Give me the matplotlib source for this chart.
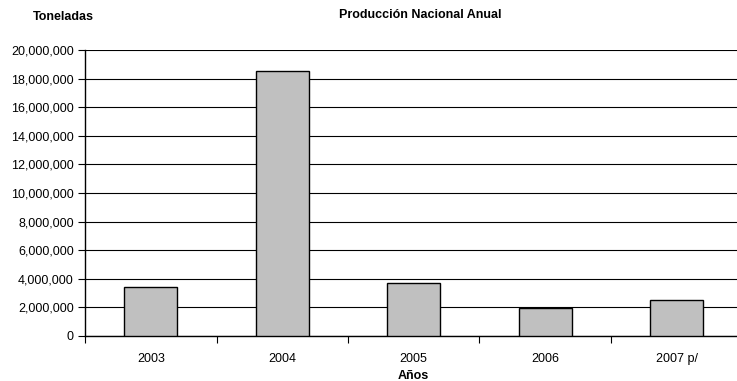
import matplotlib
matplotlib.use("Agg")
import matplotlib.pyplot as plt
from matplotlib.ticker import FuncFormatter, FixedLocator, NullFormatter

years = ["2003", "2004", "2005", "2006", "2007 p/"]
toneladas = [3450000, 18530000, 3730000, 1940000, 2500000]

plt.rcParams['font.family'] = ['Liberation Sans', 'DejaVu Sans']

fig = plt.figure(figsize=(7.37, 3.81), dpi=100)
ax = fig.add_axes([85 / 737, 45 / 381, 657.5 / 737, 286 / 381])

x = list(range(len(years)))
ax.bar(x, toneladas, width=0.4, color="#c0c0c0", edgecolor="black", linewidth=1, zorder=3)

ax.set_xlim(-0.5, len(years) - 0.5)
ax.set_ylim(0, 20000000)
ax.set_yticks(range(0, 20000001, 2000000))
ax.yaxis.set_major_formatter(FuncFormatter(lambda v, p: f"{int(v):,}"))
ax.grid(axis="y", color="black", linewidth=0.8, zorder=0)

# category labels centred, tick marks between categories
ax.xaxis.set_major_locator(FixedLocator([i + 0.5 for i in range(-1, len(years))]))
ax.xaxis.set_major_formatter(NullFormatter())
ax.xaxis.set_minor_locator(FixedLocator(x))
ax.set_xticklabels(years, minor=True)
ax.tick_params(axis="x", which="minor", length=0, pad=12, labelsize=9)
ax.tick_params(axis="x", which="major", length=5, direction="out", width=0.8)
ax.tick_params(axis="y", length=5, width=0.8, labelsize=9, pad=3)

for s in ["top", "right"]:
    ax.spines[s].set_visible(False)
ax.spines["left"].set_linewidth(1)
ax.spines["bottom"].set_linewidth(1)

ax.set_xlabel("Años", fontsize=9, fontweight="bold", labelpad=4)
fig.text(33 / 737, 1 - 17 / 381, "Toneladas", fontsize=9, fontweight="bold", va="center")
fig.text(420 / 737, 1 - 15 / 381, "Producción Nacional Anual", fontsize=9, fontweight="bold",
         ha="center", va="center")

plt.savefig("out.png", dpi=100)
